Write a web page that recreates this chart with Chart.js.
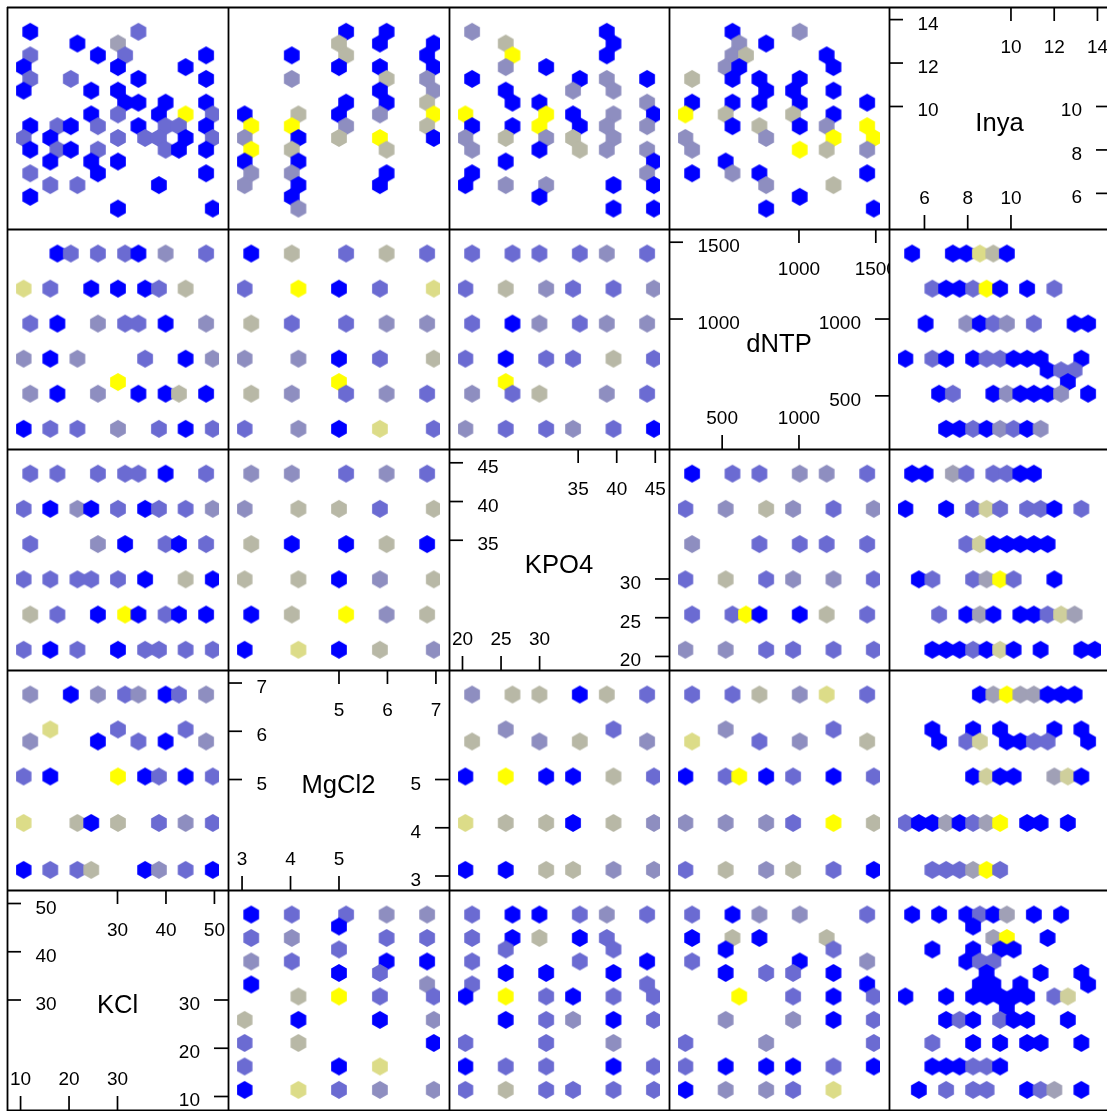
<!DOCTYPE html>
<html><head><meta charset="utf-8">
<script src="https://cdn.jsdelivr.net/npm/chart.js@4.4.1/dist/chart.umd.min.js"></script>
<style>
html,body{margin:0;padding:0;background:#fff;overflow:hidden;}
#wrap{position:relative;width:1107px;height:1111px;overflow:hidden;background:#fff;}
#wrap canvas{position:absolute;}
</style></head><body><div id="wrap"></div>
<script>
// ---- variables (diagonal order: bottom-left to top-right) ----
const varNames = ['KCl','MgCl2','KPO4','dNTP','Inya'];
const varMin = [7.2, 2.71, 18.25, 154, 4.36];
const varMax = [52.8, 7.27, 46.78, 1586, 14.58];
const ticksLow  = [[10,20,30],[3,4,5],[20,25,30],[500,1000],[6,8,10]];
const ticksHigh = [[30,40,50],[5,6,7],[35,40,45],[1000,1500],[10,12,14]];

// ---- hexbin cells: [x value, y value, colour level] ; name = Y_X ----
const Inya_KCl = [[10.4,13.79,1],[34.7,13.79,2],[21.0,13.20,1],[30.1,13.20,4],[10.4,12.61,2],[25.6,12.61,1],[31.7,12.61,2],[49.9,12.61,1],[8.9,12.02,1],[30.1,12.02,1],[45.3,12.02,1],[10.4,11.43,2],[19.5,11.43,2],[34.7,11.43,1],[49.9,11.43,1],[8.9,10.84,1],[24.1,10.84,1],[30.1,10.84,1],[31.7,10.24,1],[34.7,10.24,1],[40.8,10.24,1],[49.9,10.24,1],[24.1,9.65,1],[30.1,9.65,2],[39.3,9.65,1],[45.3,9.65,8],[51.4,9.65,2],[10.4,9.06,1],[16.5,9.06,2],[19.5,9.06,1],[25.6,9.06,2],[34.7,9.06,1],[40.8,9.06,2],[43.8,9.06,2],[49.9,9.06,1],[8.9,8.47,2],[14.9,8.47,1],[30.1,8.47,2],[36.2,8.47,2],[39.3,8.47,2],[45.3,8.47,1],[51.4,8.47,2],[10.4,7.88,1],[16.5,7.88,2],[19.5,7.88,1],[25.6,7.88,2],[40.8,7.88,2],[43.8,7.88,1],[49.9,7.88,1],[14.9,7.29,1],[24.1,7.29,1],[30.1,7.29,1],[10.4,6.70,2],[25.6,6.70,1],[49.9,6.70,1],[14.9,6.11,2],[21.0,6.11,2],[39.3,6.11,1],[10.4,5.52,1],[30.1,4.93,1],[51.4,4.93,1]];
const Inya_MgCl2 = [[5.16,13.79,1],[6.07,13.79,1],[5.00,13.20,5],[5.92,13.20,1],[7.13,13.20,1],[3.94,12.61,1],[5.16,12.61,5],[6.98,12.61,1],[5.00,12.02,1],[5.92,12.02,1],[7.13,12.02,1],[3.94,11.43,3],[6.07,11.43,5],[6.98,11.43,3],[5.92,10.84,1],[7.13,10.84,3],[5.16,10.24,1],[6.07,10.24,1],[6.98,10.24,5],[2.88,9.65,1],[4.09,9.65,5],[5.00,9.65,1],[5.92,9.65,3],[7.13,9.65,8],[3.03,9.06,8],[3.94,9.06,8],[5.16,9.06,3],[6.98,9.06,5],[2.88,8.47,3],[4.09,8.47,1],[5.00,8.47,5],[5.92,8.47,8],[7.13,8.47,1],[3.03,7.88,8],[3.94,7.88,5],[6.07,7.88,5],[2.88,7.29,1],[4.09,7.29,1],[3.03,6.70,3],[3.94,6.70,3],[6.07,6.70,1],[2.88,6.11,3],[4.09,6.11,1],[5.92,6.11,1],[3.94,5.52,1],[4.09,4.93,3]];
const Inya_KPO4 = [[20.24,13.79,3],[39.26,13.79,1],[24.99,13.20,5],[40.21,13.20,1],[25.94,12.61,8],[39.26,12.61,1],[24.99,12.02,3],[30.70,12.02,1],[20.24,11.43,1],[35.45,11.43,1],[39.26,11.43,3],[44.96,11.43,1],[24.99,10.84,1],[34.50,10.84,3],[40.21,10.84,3],[25.94,10.24,1],[29.75,10.24,1],[44.96,10.24,3],[19.29,9.65,8],[30.70,9.65,8],[34.50,9.65,1],[40.21,9.65,3],[45.92,9.65,1],[20.24,9.06,1],[25.94,9.06,1],[29.75,9.06,8],[35.45,9.06,1],[39.26,9.06,3],[44.96,9.06,3],[19.29,8.47,3],[24.99,8.47,5],[30.70,8.47,3],[34.50,8.47,5],[40.21,8.47,3],[20.24,7.88,3],[29.75,7.88,1],[35.45,7.88,5],[39.26,7.88,3],[44.96,7.88,3],[24.99,7.29,1],[45.92,7.29,1],[20.24,6.70,1],[44.96,6.70,3],[19.29,6.11,1],[24.99,6.11,3],[30.70,6.11,3],[40.21,6.11,1],[45.92,6.11,1],[29.75,5.52,1],[40.21,4.93,1],[45.92,4.93,1]];
const Inya_dNTP = [[540,13.79,1],[1017,13.79,3],[588,13.20,3],[779,13.20,1],[540,12.61,3],[636,12.61,5],[1208,12.61,1],[492,12.02,3],[588,12.02,1],[1256,12.02,1],[254,11.43,5],[540,11.43,1],[731,11.43,1],[1017,11.43,1],[779,10.84,1],[970,10.84,1],[1256,10.84,1],[254,10.24,1],[540,10.24,1],[731,10.24,1],[1017,10.24,1],[1495,10.24,1],[206,9.65,8],[492,9.65,5],[970,9.65,5],[1256,9.65,1],[540,9.06,1],[731,9.06,5],[1017,9.06,1],[1208,9.06,3],[1495,9.06,8],[206,8.47,3],[779,8.47,3],[1256,8.47,8],[1542,8.47,8],[254,7.88,3],[1017,7.88,8],[1208,7.88,5],[1495,7.88,3],[492,7.29,1],[254,6.70,1],[540,6.70,3],[731,6.70,1],[1495,6.70,1],[779,6.11,3],[1256,6.11,5],[1017,5.52,1],[779,4.93,1],[1542,4.93,1]];

const dNTP_KCl = [[16.5,1476,1],[19.5,1476,2],[25.6,1476,2],[31.7,1476,2],[34.7,1476,1],[40.8,1476,3],[49.9,1476,2],[8.9,1227,7],[14.9,1227,2],[24.1,1227,1],[30.1,1227,1],[36.2,1227,1],[39.3,1227,2],[45.3,1227,5],[10.4,979,2],[16.5,979,1],[25.6,979,3],[31.7,979,2],[34.7,979,2],[40.8,979,1],[49.9,979,3],[8.9,730,3],[14.9,730,1],[21.0,730,3],[36.2,730,2],[45.3,730,1],[51.4,730,3],[30.1,565,8],[10.4,482,3],[16.5,482,1],[25.6,482,3],[34.7,482,1],[40.8,482,1],[43.8,482,5],[49.9,482,1],[8.9,233,1],[14.9,233,2],[21.0,233,2],[30.1,233,3],[39.3,233,2],[45.3,233,1],[51.4,233,2]];
const dNTP_MgCl2 = [[3.03,1476,1],[3.94,1476,5],[5.16,1476,2],[6.07,1476,5],[6.98,1476,2],[2.88,1227,2],[4.09,1227,8],[5.00,1227,1],[5.92,1227,2],[7.13,1227,7],[3.03,979,5],[3.94,979,2],[5.16,979,2],[6.07,979,3],[6.98,979,3],[2.88,730,3],[4.09,730,3],[5.00,730,1],[5.92,730,2],[7.13,730,5],[5.00,565,8],[3.03,482,5],[3.94,482,3],[5.16,482,2],[6.07,482,3],[6.98,482,2],[2.88,233,2],[4.09,233,3],[5.00,233,1],[5.92,233,7],[7.13,233,2]];
const dNTP_KPO4 = [[20.24,1476,2],[25.94,1476,2],[29.75,1476,2],[35.45,1476,2],[39.26,1476,3],[44.96,1476,2],[19.29,1227,2],[24.99,1227,5],[30.70,1227,3],[34.50,1227,2],[40.21,1227,2],[45.92,1227,3],[20.24,979,2],[25.94,979,1],[29.75,979,3],[35.45,979,2],[39.26,979,3],[44.96,979,3],[19.29,730,2],[24.99,730,1],[30.70,730,2],[34.50,730,2],[40.21,730,5],[45.92,730,2],[24.99,565,8],[20.24,482,3],[25.94,482,2],[29.75,482,5],[39.26,482,3],[44.96,482,2],[19.29,233,3],[24.99,233,2],[30.70,233,2],[34.50,233,3],[40.21,233,2],[45.92,233,1]];
const dNTP_Inya = [[5.07,1476,1],[7.12,1476,1],[7.80,1476,1],[8.48,1476,7],[9.16,1476,5],[9.84,1476,1],[6.09,1227,2],[6.78,1227,1],[7.46,1227,1],[8.14,1227,2],[8.82,1227,8],[9.50,1227,1],[10.86,1227,1],[12.23,1227,2],[5.75,979,1],[7.80,979,3],[8.48,979,1],[9.16,979,2],[9.84,979,3],[11.20,979,2],[13.25,979,1],[13.93,979,1],[4.73,730,1],[6.09,730,2],[6.78,730,1],[8.14,730,1],[8.82,730,2],[9.50,730,2],[10.18,730,1],[10.86,730,1],[11.54,730,1],[13.59,730,1],[11.89,648,1],[12.57,648,2],[13.25,648,2],[12.91,565,1],[6.43,482,1],[7.12,482,2],[9.16,482,1],[9.84,482,3],[10.52,482,1],[11.20,482,1],[11.89,482,1],[12.57,482,3],[13.93,482,1],[6.78,233,1],[7.46,233,1],[8.14,233,2],[8.82,233,1],[9.50,233,3],[10.18,233,2],[10.86,233,1],[11.54,233,3]];

const KPO4_KCl = [[10.4,44.58,2],[16.5,44.58,2],[25.6,44.58,2],[31.7,44.58,2],[34.7,44.58,2],[40.8,44.58,1],[49.9,44.58,2],[8.9,39.63,2],[14.9,39.63,1],[21.0,39.63,3],[24.1,39.63,1],[30.1,39.63,2],[36.2,39.63,1],[39.3,39.63,2],[45.3,39.63,2],[51.4,39.63,3],[10.4,34.68,2],[25.6,34.68,3],[31.7,34.68,1],[40.8,34.68,2],[43.8,34.68,1],[49.9,34.68,2],[8.9,29.73,2],[14.9,29.73,2],[21.0,29.73,2],[24.1,29.73,2],[30.1,29.73,2],[36.2,29.73,1],[45.3,29.73,5],[51.4,29.73,1],[10.4,24.78,5],[16.5,24.78,2],[25.6,24.78,1],[31.7,24.78,8],[34.7,24.78,1],[40.8,24.78,2],[43.8,24.78,1],[49.9,24.78,1],[8.9,19.83,2],[14.9,19.83,1],[21.0,19.83,2],[30.1,19.83,1],[36.2,19.83,2],[39.3,19.83,2],[45.3,19.83,2],[51.4,19.83,2]];
const KPO4_MgCl2 = [[3.03,44.58,3],[3.94,44.58,3],[5.16,44.58,2],[6.07,44.58,3],[6.98,44.58,2],[2.88,39.63,3],[4.09,39.63,5],[5.00,39.63,5],[5.92,39.63,2],[7.13,39.63,5],[3.03,34.68,5],[3.94,34.68,1],[5.16,34.68,1],[6.07,34.68,5],[6.98,34.68,1],[2.88,29.73,5],[4.09,29.73,5],[5.00,29.73,1],[5.92,29.73,3],[7.13,29.73,5],[3.03,24.78,1],[3.94,24.78,5],[5.16,24.78,8],[6.07,24.78,3],[6.98,24.78,5],[2.88,19.83,1],[4.09,19.83,7],[5.00,19.83,1],[5.92,19.83,5],[7.13,19.83,3]];
const KPO4_dNTP = [[254,44.58,1],[540,44.58,2],[731,44.58,2],[1017,44.58,3],[1208,44.58,3],[1495,44.58,2],[206,39.63,2],[492,39.63,3],[779,39.63,5],[970,39.63,3],[1256,39.63,2],[1542,39.63,3],[254,34.68,3],[731,34.68,2],[1017,34.68,2],[1208,34.68,2],[1495,34.68,2],[206,29.73,2],[492,29.73,5],[779,29.73,2],[970,29.73,3],[1256,29.73,3],[1542,29.73,2],[254,24.78,2],[540,24.78,2],[636,24.78,8],[731,24.78,1],[1017,24.78,1],[1208,24.78,5],[1495,24.78,2],[206,19.83,3],[492,19.83,3],[779,19.83,2],[970,19.83,2],[1256,19.83,2],[1542,19.83,2]];
const KPO4_Inya = [[5.07,44.58,1],[5.75,44.58,1],[7.12,44.58,4],[7.80,44.58,2],[9.16,44.58,2],[9.84,44.58,2],[10.52,44.58,1],[11.20,44.58,1],[4.73,39.63,1],[6.78,39.63,1],[8.14,39.63,2],[8.82,39.63,6],[9.50,39.63,2],[10.86,39.63,2],[11.54,39.63,2],[12.23,39.63,1],[13.59,39.63,2],[7.80,34.68,2],[8.48,34.68,6],[9.16,34.68,1],[9.84,34.68,1],[10.52,34.68,1],[11.20,34.68,1],[11.89,34.68,1],[5.41,29.73,1],[6.09,29.73,2],[8.14,29.73,2],[8.82,29.73,4],[9.50,29.73,8],[10.18,29.73,2],[12.23,29.73,1],[6.43,24.78,2],[7.80,24.78,1],[8.48,24.78,4],[9.16,24.78,1],[10.52,24.78,1],[11.20,24.78,1],[11.89,24.78,2],[12.57,24.78,6],[13.25,24.78,4],[6.09,19.83,1],[6.78,19.83,1],[7.46,19.83,1],[8.14,19.83,2],[8.82,19.83,1],[9.50,19.83,6],[10.18,19.83,1],[11.54,19.83,1],[13.59,19.83,1],[14.27,19.83,1]];

const MgCl2_KCl = [[10.4,6.92,3],[19.5,6.92,1],[25.6,6.92,3],[31.7,6.92,2],[34.7,6.92,3],[40.8,6.92,1],[43.8,6.92,2],[49.9,6.92,3],[14.9,6.13,7],[30.1,6.13,2],[45.3,6.13,2],[10.4,5.86,3],[25.6,5.86,1],[34.7,5.86,2],[40.8,5.86,1],[49.9,5.86,3],[8.9,5.07,2],[14.9,5.07,1],[30.1,5.07,8],[36.2,5.07,1],[39.3,5.07,2],[45.3,5.07,1],[51.4,5.07,2],[8.9,4.02,7],[21.0,4.02,5],[24.1,4.02,1],[30.1,4.02,5],[39.3,4.02,2],[45.3,4.02,3],[51.4,4.02,2],[8.9,2.96,1],[14.9,2.96,2],[21.0,2.96,2],[24.1,2.96,5],[36.2,2.96,1],[39.3,2.96,3],[45.3,2.96,2],[51.4,2.96,1]];
const MgCl2_KPO4 = [[20.24,6.92,3],[25.94,6.92,5],[29.75,6.92,5],[35.45,6.92,1],[39.26,6.92,5],[44.96,6.92,2],[24.99,6.13,3],[40.21,6.13,2],[20.24,5.86,5],[29.75,5.86,3],[35.45,5.86,5],[44.96,5.86,3],[19.29,5.07,1],[24.99,5.07,8],[30.70,5.07,1],[34.50,5.07,1],[40.21,5.07,5],[45.92,5.07,2],[19.29,4.02,7],[24.99,4.02,5],[30.70,4.02,5],[34.50,4.02,1],[40.21,4.02,5],[45.92,4.02,3],[19.29,2.96,1],[24.99,2.96,1],[30.70,2.96,5],[34.50,2.96,5],[40.21,2.96,3],[45.92,2.96,3]];
const MgCl2_dNTP = [[254,6.92,2],[540,6.92,2],[731,6.92,5],[1017,6.92,3],[1208,6.92,7],[1495,6.92,2],[492,6.13,3],[1256,6.13,2],[254,5.86,7],[731,5.86,2],[1017,5.86,3],[1495,5.86,5],[206,5.07,1],[492,5.07,2],[588,5.07,8],[779,5.07,1],[970,5.07,2],[1256,5.07,1],[1542,5.07,2],[206,4.02,3],[492,4.02,3],[779,4.02,3],[970,4.02,2],[1256,4.02,8],[1542,4.02,5],[206,2.96,2],[492,2.96,5],[779,2.96,3],[970,2.96,5],[1256,2.96,2],[1542,2.96,1]];
const MgCl2_Inya = [[8.48,6.92,1],[9.16,6.92,4],[9.84,6.92,8],[10.52,6.92,4],[11.20,6.92,4],[11.89,6.92,1],[12.57,6.92,1],[13.25,6.92,1],[6.09,6.13,1],[8.14,6.13,1],[9.50,6.13,1],[12.23,6.13,1],[13.59,6.13,1],[6.43,5.86,1],[7.80,5.86,2],[8.48,5.86,6],[9.84,5.86,1],[10.52,5.86,1],[11.20,5.86,2],[11.89,5.86,2],[13.93,5.86,1],[8.14,5.07,1],[8.82,5.07,6],[9.50,5.07,1],[10.18,5.07,1],[12.23,5.07,4],[12.91,5.07,6],[13.59,5.07,1],[4.73,4.02,2],[5.41,4.02,1],[6.09,4.02,1],[6.78,4.02,4],[7.46,4.02,1],[8.14,4.02,2],[8.82,4.02,4],[9.50,4.02,8],[10.86,4.02,1],[11.54,4.02,1],[12.91,4.02,1],[6.09,2.96,2],[6.78,2.96,2],[7.46,2.96,2],[8.14,2.96,4],[8.82,2.96,8],[9.50,2.96,2]];

const KCl_MgCl2 = [[3.03,49.3,1],[3.94,49.3,2],[5.16,49.3,2],[6.07,49.3,3],[6.98,49.3,3],[5.00,46.6,1],[3.03,44.0,2],[3.94,44.0,3],[6.07,44.0,2],[6.98,44.0,2],[5.00,41.4,2],[3.03,38.7,3],[3.94,38.7,2],[6.07,38.7,1],[6.98,38.7,1],[5.00,36.1,1],[5.92,36.1,2],[3.03,33.5,1],[6.98,33.5,3],[4.09,30.8,5],[5.00,30.8,8],[5.92,30.8,2],[7.13,30.8,2],[2.88,25.5,5],[4.09,25.5,1],[5.92,25.5,1],[7.13,25.5,3],[2.88,20.3,2],[4.09,20.3,5],[7.13,20.3,1],[2.88,15.0,2],[5.00,15.0,1],[5.92,15.0,7],[2.88,9.7,1],[4.09,9.7,7],[5.00,9.7,2],[5.92,9.7,3],[7.13,9.7,3]];
const KCl_KPO4 = [[20.24,49.3,2],[25.94,49.3,1],[29.75,49.3,1],[35.45,49.3,2],[39.26,49.3,3],[44.96,49.3,2],[20.24,44.0,2],[25.94,44.0,1],[29.75,44.0,5],[35.45,44.0,1],[39.26,44.0,2],[24.99,41.4,2],[40.21,41.4,2],[20.24,38.7,2],[35.45,38.7,2],[44.96,38.7,1],[24.99,36.1,1],[30.70,36.1,1],[40.21,36.1,1],[20.24,33.5,2],[44.96,33.5,2],[19.29,30.8,1],[24.99,30.8,8],[30.70,30.8,2],[34.50,30.8,1],[40.21,30.8,2],[45.92,30.8,2],[24.99,25.5,1],[30.70,25.5,2],[34.50,25.5,3],[40.21,25.5,1],[45.92,25.5,2],[19.29,20.3,2],[30.70,20.3,2],[40.21,20.3,3],[19.29,15.0,1],[24.99,15.0,2],[30.70,15.0,2],[40.21,15.0,1],[45.92,15.0,2],[19.29,9.7,2],[24.99,9.7,5],[30.70,9.7,2],[34.50,9.7,2],[40.21,9.7,2],[45.92,9.7,2]];
const KCl_dNTP = [[254,49.3,2],[540,49.3,1],[731,49.3,3],[1017,49.3,3],[1495,49.3,2],[254,44.0,1],[540,44.0,5],[731,44.0,1],[1208,44.0,5],[492,41.4,1],[1256,41.4,2],[254,38.7,2],[1017,38.7,1],[1495,38.7,3],[492,36.1,1],[779,36.1,2],[970,36.1,2],[1256,36.1,1],[1495,33.5,1],[588,30.8,8],[970,30.8,2],[1256,30.8,1],[1542,30.8,2],[492,25.5,3],[970,25.5,3],[1256,25.5,1],[1542,25.5,2],[206,20.3,2],[779,20.3,3],[1542,20.3,2],[206,15.0,2],[492,15.0,1],[779,15.0,1],[970,15.0,1],[1256,15.0,2],[1542,15.0,1],[206,9.7,1],[492,9.7,3],[779,9.7,3],[970,9.7,2],[1256,9.7,7]];
const KCl_Inya = [[5.07,49.3,1],[6.43,49.3,1],[7.80,49.3,1],[8.48,49.3,2],[9.16,49.3,1],[9.84,49.3,4],[11.20,49.3,1],[12.57,49.3,1],[8.14,46.6,1],[9.16,44.0,4],[9.84,44.0,8],[11.89,44.0,1],[6.09,41.4,1],[8.14,41.4,1],[9.50,41.4,1],[10.18,41.4,1],[7.80,38.7,1],[8.48,38.7,2],[9.16,38.7,2],[8.82,36.1,1],[11.54,36.1,1],[13.59,36.1,1],[8.48,33.5,1],[9.16,33.5,1],[10.52,33.5,1],[13.93,33.5,1],[4.73,30.8,1],[6.78,30.8,1],[8.14,30.8,1],[8.82,30.8,1],[9.50,30.8,1],[10.18,30.8,1],[10.86,30.8,1],[12.23,30.8,2],[12.91,30.8,6],[9.84,28.2,1],[6.78,25.5,1],[7.46,25.5,2],[8.14,25.5,1],[9.50,25.5,2],[10.18,25.5,1],[10.86,25.5,1],[12.91,25.5,1],[6.09,20.3,2],[8.14,20.3,1],[9.50,20.3,1],[10.86,20.3,1],[11.54,20.3,1],[13.59,20.3,1],[6.09,15.0,1],[6.78,15.0,1],[7.46,15.0,1],[8.14,15.0,2],[8.82,15.0,2],[9.50,15.0,1],[5.41,9.7,1],[6.78,9.7,2],[8.14,9.7,2],[8.82,9.7,2],[10.86,9.7,1],[11.54,9.7,2],[12.23,9.7,4],[13.59,9.7,1]];

const levelColors = ['#ffffff','#0000FF','#6B6BD2','#8E8EC0','#A0A0B6','#B8B8A6','#CFCF9C','#DCDC88','#FFFF00'];

// ---- lookup: panels[yVarIndex_xVarIndex] ----
const panels = {
  '4_0': Inya_KCl, '4_1': Inya_MgCl2, '4_2': Inya_KPO4, '4_3': Inya_dNTP,
  '3_0': dNTP_KCl, '3_1': dNTP_MgCl2, '3_2': dNTP_KPO4, '3_4': dNTP_Inya,
  '2_0': KPO4_KCl, '2_1': KPO4_MgCl2, '2_3': KPO4_dNTP, '2_4': KPO4_Inya,
  '1_0': MgCl2_KCl, '1_2': MgCl2_KPO4, '1_3': MgCl2_dNTP, '1_4': MgCl2_Inya,
  '0_1': KCl_MgCl2, '0_2': KCl_KPO4, '0_3': KCl_dNTP, '0_4': KCl_Inya
};

// ---- layout (pixels) ----
const colEdge = [7, 228, 449, 669, 889, 1110];
const rowEdge = [7, 229, 449, 670, 890, 1110];
const FONT = '"Liberation Sans", Arial, Helvetica, sans-serif';

function hexImage(color){
  const c = document.createElement('canvas'); c.width = 18; c.height = 20;
  const g = c.getContext('2d'); const s = 7.85, R = 9.06, cx = 9, cy = 10;
  g.fillStyle = color; g.beginPath();
  g.moveTo(cx, cy - R); g.lineTo(cx + s, cy - R/2); g.lineTo(cx + s, cy + R/2);
  g.lineTo(cx, cy + R); g.lineTo(cx - s, cy + R/2); g.lineTo(cx - s, cy - R/2);
  g.closePath(); g.fill();
  return c;
}
const hexImgs = levelColors.map(hexImage);

const wrap = document.getElementById('wrap');
function makeCanvas(l, t, w, h){
  const cv = document.createElement('canvas');
  cv.width = w; cv.height = h;
  cv.style.left = l + 'px'; cv.style.top = t + 'px';
  cv.style.width = w + 'px'; cv.style.height = h + 'px';
  wrap.appendChild(cv);
  return cv;
}

const diagPlugin = {
  id: 'diag',
  afterDraw(chart, args, opts){
    const k = opts.k; if (k === undefined) return;
    const ctx = chart.ctx, a = chart.chartArea, xs = chart.scales.x, ys = chart.scales.y;
    const L = a.left, R = a.right, T = a.top, B = a.bottom;
    ctx.save();
    ctx.strokeStyle = '#000'; ctx.fillStyle = '#000'; ctx.lineWidth = 1.7;
    ctx.font = '19px ' + FONT; ctx.textBaseline = 'alphabetic';
    ticksHigh[k].forEach(v => {
      const y = ys.getPixelForValue(v);
      ctx.beginPath(); ctx.moveTo(L, y); ctx.lineTo(L + 14, y); ctx.stroke();
      ctx.textAlign = 'left'; ctx.fillText(String(v), L + 28.5, y + 10);
      const x = xs.getPixelForValue(v);
      ctx.beginPath(); ctx.moveTo(x, T); ctx.lineTo(x, T + 14); ctx.stroke();
      ctx.textAlign = 'center'; ctx.fillText(String(v), x, T + 46);
    });
    ticksLow[k].forEach(v => {
      const y = ys.getPixelForValue(v);
      ctx.beginPath(); ctx.moveTo(R - 14, y); ctx.lineTo(R, y); ctx.stroke();
      ctx.textAlign = 'right'; ctx.fillText(String(v), R - 28, y + 10);
      const x = xs.getPixelForValue(v);
      ctx.beginPath(); ctx.moveTo(x, B - 14); ctx.lineTo(x, B); ctx.stroke();
      ctx.textAlign = 'center'; ctx.fillText(String(v), x, B - 25);
    });
    ctx.font = '25.6px ' + FONT; ctx.textAlign = 'center';
    ctx.fillText(varNames[k], (L + R) / 2, (T + B) / 2 + 13.3);
    ctx.restore();
  }
};

for (let i = 0; i < 5; i++) {
  const yv = 4 - i;
  for (let j = 0; j < 5; j++) {
    const xv = j;
    const l = colEdge[j], t = rowEdge[i];
    const w = colEdge[j + 1] - l, h = rowEdge[i + 1] - t;
    const cv = makeCanvas(l, t, w, h);
    const isDiag = (xv === yv);
    const raw = isDiag ? [] : (panels[yv + '_' + xv] || []);
    const pts = raw.map(p => ({x: p[0], y: p[1], n: p[2]}));
    new Chart(cv, {
      type: 'scatter',
      data: { datasets: [{
        data: pts,
        pointStyle: c => hexImgs[(c.raw && c.raw.n) || 1],
        pointRadius: 8, pointHoverRadius: 8, clip: 0
      }]},
      options: {
        responsive: false, animation: false, events: [],
        layout: { padding: 0 },
        scales: {
          x: { type: 'linear', min: varMin[xv], max: varMax[xv], display: false },
          y: { type: 'linear', min: varMin[yv], max: varMax[yv], display: false }
        },
        plugins: { legend: { display: false }, tooltip: { enabled: false },
                   diag: isDiag ? { k: xv } : {} }
      },
      plugins: [diagPlugin]
    });
  }
}

// panel frame
const fr = makeCanvas(0, 0, 1107, 1111);
const g = fr.getContext('2d');
g.strokeStyle = '#000'; g.lineWidth = 1.8;
colEdge.forEach(x => { g.beginPath(); g.moveTo(x + 0.5, rowEdge[0]); g.lineTo(x + 0.5, rowEdge[5] + 0.9); g.stroke(); });
rowEdge.forEach(y => { g.beginPath(); g.moveTo(colEdge[0], y + 0.5); g.lineTo(colEdge[5] + 0.9, y + 0.5); g.stroke(); });
</script></body></html>
